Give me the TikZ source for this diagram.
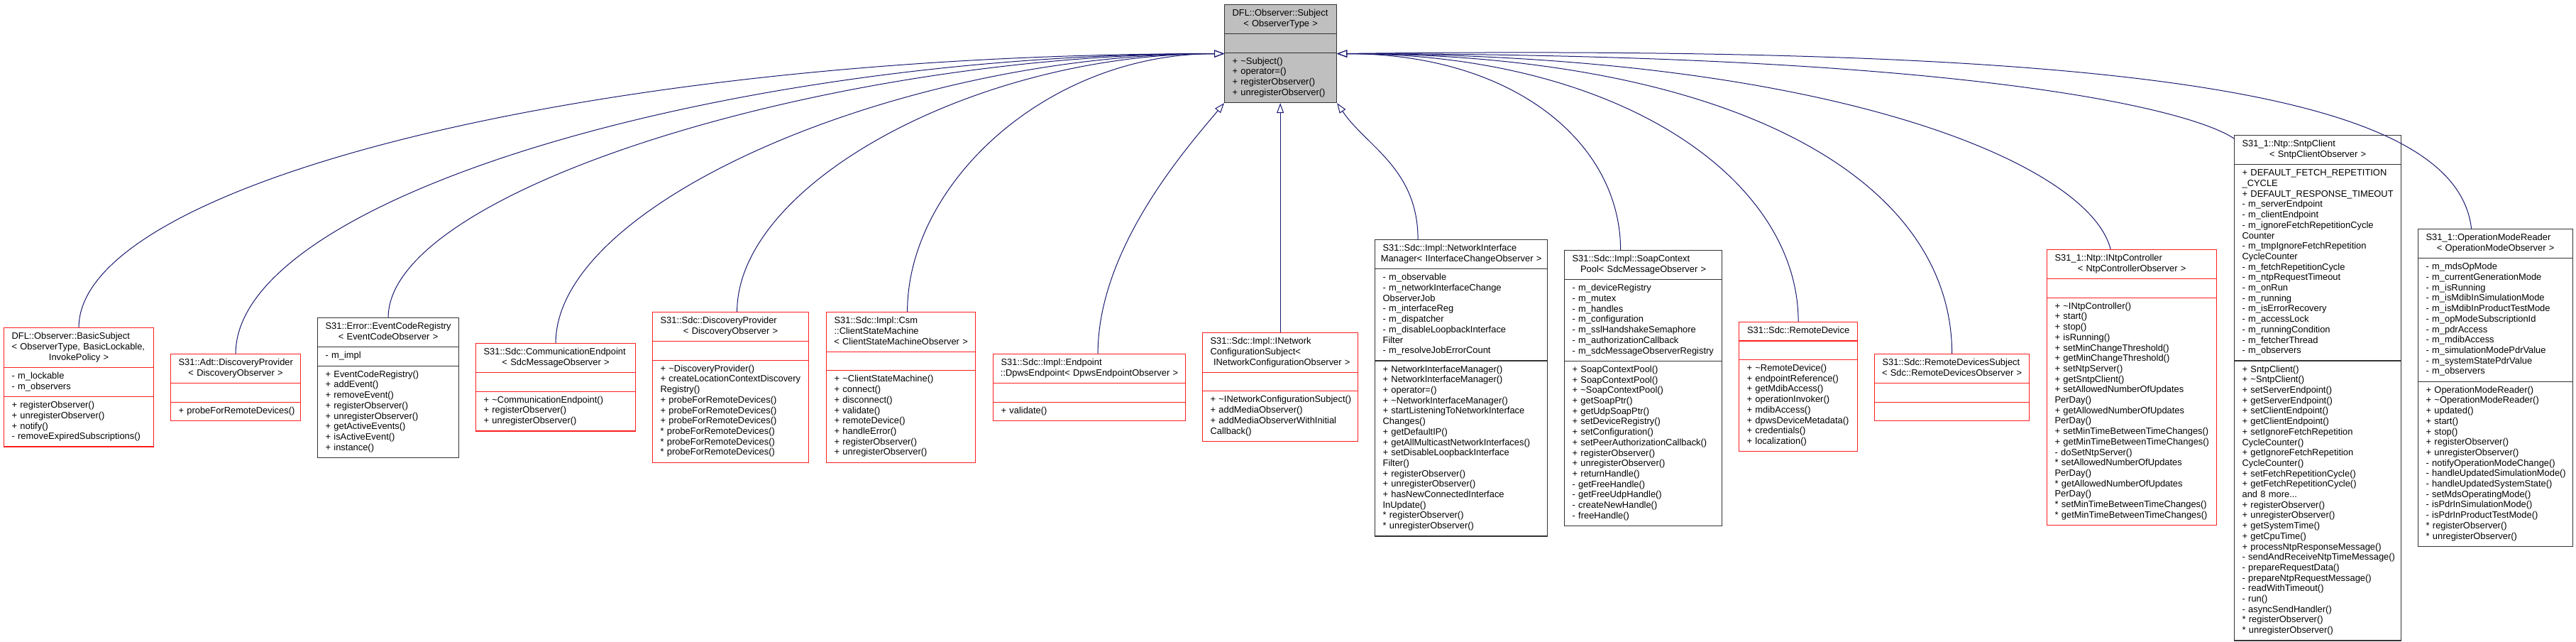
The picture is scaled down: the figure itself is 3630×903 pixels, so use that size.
\documentclass[tikz,border=0pt]{standalone}
\usepackage{fontspec}
\setmainfont{Liberation Sans}
\usetikzlibrary{arrows.meta,shapes.multipart}

\definecolor{edgeblue}{RGB}{25,25,112}
\definecolor{incred}{RGB}{255,30,30}
\definecolor{basegray}{RGB}{191,191,191}

% class title: left lines, last line centred
\newcommand{\clsname}[2]{\begin{tabular}{@{}l@{}}#1\makebox[\linewidth]{#2}\end{tabular}}
\newcommand{\members}[1]{\begin{tabular}{@{}l@{}}#1\end{tabular}}

\begin{document}
\begin{tikzpicture}[
  x=1pt, y=-1pt,
  cls/.style={rectangle split, rectangle split parts=3, draw=incred, line width=1.2pt,
    fill=white, inner xsep=11pt, inner ysep=5.25pt, align=left, anchor=north west,
    font=\fontsize{12.9pt}{14.7pt}\selectfont},
  known/.style={cls, draw=black!80},
  base/.style={known, fill=basegray},
  inh/.style={edgeblue, line width=1pt, -{Triangle[open, length=14pt, width=10pt, fill=white]}},
]
\useasboundingbox (0,0) rectangle (3630,903);

% ---------- base class ----------
\node[base, text width=136pt] (subj) at (1725,6)
  {\clsname{DFL::Observer::Subject\\}{< ObserverType >}
   \nodepart{two}\strut
   \nodepart{three}\members{+ \textasciitilde{}Subject()\\+ operator=()\\+ registerObserver()\\+ unregisterObserver()}};

% ---------- derived classes, left ----------
\node[cls, text width=189pt] (bsub) at (5,461)
  {\clsname{DFL::Observer::BasicSubject\\< ObserverType, BasicLockable,\\}{InvokePolicy >}
   \nodepart{two}\members{- m\_lockable\\- m\_observers}
   \nodepart{three}\members{+ registerObserver()\\+ unregisterObserver()\\+ notify()\\- removeExpiredSubscriptions()}};

\node[cls, text width=161pt] (adtdp) at (240,498)
  {\clsname{S31::Adt::DiscoveryProvider\\}{< DiscoveryObserver >}
   \nodepart{two}\strut
   \nodepart{three}\members{+ probeForRemoteDevices()}};

\node[known, text width=177pt] (errreg) at (447,447)
  {\clsname{S31::Error::EventCodeRegistry\\}{< EventCodeObserver >}
   \nodepart{two}\members{- m\_impl}
   \nodepart{three}\members{+ EventCodeRegistry()\\+ addEvent()\\+ removeEvent()\\+ registerObserver()\\+ unregisterObserver()\\+ getActiveEvents()\\+ isActiveEvent()\\+ instance()}};

\node[cls, text width=203pt] (commep) at (670,483)
  {\clsname{S31::Sdc::CommunicationEndpoint\\}{< SdcMessageObserver >}
   \nodepart{two}\strut
   \nodepart{three}\members{+ \textasciitilde{}CommunicationEndpoint()\\+ registerObserver()\\+ unregisterObserver()}};

\node[cls, text width=198pt] (sdcdp) at (919,439)
  {\clsname{S31::Sdc::DiscoveryProvider\\}{< DiscoveryObserver >}
   \nodepart{two}\strut
   \nodepart{three}\members{+ \textasciitilde{}DiscoveryProvider()\\+ createLocationContextDiscovery\\Registry()\\+ probeForRemoteDevices()\\+ probeForRemoteDevices()\\+ probeForRemoteDevices()\\{*} probeForRemoteDevices()\\{*} probeForRemoteDevices()\\{*} probeForRemoteDevices()}};

\node[cls, text width=188pt] (csm) at (1164,439)
  {\clsname{S31::Sdc::Impl::Csm\\::ClientStateMachine\\}{< ClientStateMachineObserver >}
   \nodepart{two}\strut
   \nodepart{three}\members{+ \textasciitilde{}ClientStateMachine()\\+ connect()\\+ disconnect()\\+ validate()\\+ remoteDevice()\\+ handleError()\\+ registerObserver()\\+ unregisterObserver()}};

\node[cls, text width=249pt] (dpws) at (1399,498)
  {\clsname{S31::Sdc::Impl::Endpoint\\}{::DpwsEndpoint< DpwsEndpointObserver >}
   \nodepart{two}\strut
   \nodepart{three}\members{+ validate()}};

\node[cls, text width=197pt] (inetconf) at (1694,468)
  {\clsname{S31::Sdc::Impl::INetwork\\ConfigurationSubject<\\}{ INetworkConfigurationObserver >}
   \nodepart{two}\strut
   \nodepart{three}\members{+ \textasciitilde{}INetworkConfigurationSubject()\\+ addMediaObserver()\\+ addMediaObserverWithInitial\\Callback()}};

% ---------- derived classes, right ----------
\node[known, text width=221pt] (nim) at (1937,337)
  {\clsname{S31::Sdc::Impl::NetworkInterface\\}{Manager< IInterfaceChangeObserver >}
   \nodepart{two}\members{- m\_observable\\- m\_networkInterfaceChange\\ObserverJob\\- m\_interfaceReg\\- m\_dispatcher\\- m\_disableLoopbackInterface\\Filter\\- m\_resolveJobErrorCount}
   \nodepart{three}\members{+ NetworkInterfaceManager()\\+ NetworkInterfaceManager()\\+ operator=()\\+ \textasciitilde{}NetworkInterfaceManager()\\+ startListeningToNetworkInterface\\Changes()\\+ getDefaultIP()\\+ getAllMulticastNetworkInterfaces()\\+ setDisableLoopbackInterface\\Filter()\\+ registerObserver()\\+ unregisterObserver()\\+ hasNewConnectedInterface\\InUpdate()\\{*} registerObserver()\\{*} unregisterObserver()}};

\node[known, text width=200pt] (soap) at (2204,352)
  {\clsname{S31::Sdc::Impl::SoapContext\\}{Pool< SdcMessageObserver >}
   \nodepart{two}\members{- m\_deviceRegistry\\- m\_mutex\\- m\_handles\\- m\_configuration\\- m\_sslHandshakeSemaphore\\- m\_authorizationCallback\\- m\_sdcMessageObserverRegistry}
   \nodepart{three}\members{+ SoapContextPool()\\+ SoapContextPool()\\+ \textasciitilde{}SoapContextPool()\\+ getSoapPtr()\\+ getUdpSoapPtr()\\+ setDeviceRegistry()\\+ setConfiguration()\\+ setPeerAuthorizationCallback()\\+ registerObserver()\\+ unregisterObserver()\\+ returnHandle()\\- getFreeHandle()\\- getFreeUdpHandle()\\- createNewHandle()\\- freeHandle()}};

\node[cls, text width=145pt] (rdev) at (2450,453)
  {\clsname{}{S31::Sdc::RemoteDevice}
   \nodepart{two}\strut
   \nodepart{three}\members{+ \textasciitilde{}RemoteDevice()\\+ endpointReference()\\+ getMdibAccess()\\+ operationInvoker()\\+ mdibAccess()\\+ dpwsDeviceMetadata()\\+ credentials()\\+ localization()}};

\node[cls, text width=196pt] (rdsub) at (2641,498)
  {\clsname{S31::Sdc::RemoteDevicesSubject\\}{< Sdc::RemoteDevicesObserver >}
   \nodepart{two}\strut
   \nodepart{three}\strut};

\node[cls, text width=217pt] (ntpc) at (2884,351)
  {\clsname{S31\_1::Ntp::INtpController\\}{< NtpControllerObserver >}
   \nodepart{two}\strut
   \nodepart{three}\members{+ \textasciitilde{}INtpController()\\+ start()\\+ stop()\\+ isRunning()\\+ setMinChangeThreshold()\\+ getMinChangeThreshold()\\+ setNtpServer()\\+ getSntpClient()\\+ setAllowedNumberOfUpdates\\PerDay()\\+ getAllowedNumberOfUpdates\\PerDay()\\+ setMinTimeBetweenTimeChanges()\\+ getMinTimeBetweenTimeChanges()\\- doSetNtpServer()\\{*} setAllowedNumberOfUpdates\\PerDay()\\{*} getAllowedNumberOfUpdates\\PerDay()\\{*} setMinTimeBetweenTimeChanges()\\{*} getMinTimeBetweenTimeChanges()}};

\node[known, text width=213pt] (sntp) at (3148,190)
  {\clsname{S31\_1::Ntp::SntpClient\\}{< SntpClientObserver >}
   \nodepart{two}\members{+ DEFAULT\_FETCH\_REPETITION\\\_CYCLE\\+ DEFAULT\_RESPONSE\_TIMEOUT\\- m\_serverEndpoint\\- m\_clientEndpoint\\- m\_ignoreFetchRepetitionCycle\\Counter\\- m\_tmpIgnoreFetchRepetition\\CycleCounter\\- m\_fetchRepetitionCycle\\- m\_ntpRequestTimeout\\- m\_onRun\\- m\_running\\- m\_isErrorRecovery\\- m\_accessLock\\- m\_runningCondition\\- m\_fetcherThread\\- m\_observers}
   \nodepart{three}\members{+ SntpClient()\\+ \textasciitilde{}SntpClient()\\+ setServerEndpoint()\\+ getServerEndpoint()\\+ setClientEndpoint()\\+ getClientEndpoint()\\+ setIgnoreFetchRepetition\\CycleCounter()\\+ getIgnoreFetchRepetition\\CycleCounter()\\+ setFetchRepetitionCycle()\\+ getFetchRepetitionCycle()\\and 8 more...\\+ registerObserver()\\+ unregisterObserver()\\+ getSystemTime()\\+ getCpuTime()\\+ processNtpResponseMessage()\\- sendAndReceiveNtpTimeMessage()\\- prepareRequestData()\\- prepareNtpRequestMessage()\\- readWithTimeout()\\- run()\\- asyncSendHandler()\\{*} registerObserver()\\{*} unregisterObserver()}};

\node[known, text width=196pt] (omr) at (3407,322)
  {\clsname{S31\_1::OperationModeReader\\}{< OperationModeObserver >}
   \nodepart{two}\members{- m\_mdsOpMode\\- m\_currentGenerationMode\\- m\_isRunning\\- m\_isMdibInSimulationMode\\- m\_isMdibInProductTestMode\\- m\_opModeSubscriptionId\\- m\_pdrAccess\\- m\_mdibAccess\\- m\_simulationModePdrValue\\- m\_systemStatePdrValue\\- m\_observers}
   \nodepart{three}\members{+ OperationModeReader()\\+ \textasciitilde{}OperationModeReader()\\+ updated()\\+ start()\\+ stop()\\+ registerObserver()\\+ unregisterObserver()\\- notifyOperationModeChange()\\- handleUpdatedSimulationMode()\\- handleUpdatedSystemState()\\- setMdsOperatingMode()\\- isPdrInSimulationMode()\\- isPdrInProductTestMode()\\{*} registerObserver()\\{*} unregisterObserver()}};

% ---------- inheritance edges ----------
\draw[inh] (bsub.north) .. controls +(0,-200) and +(-900,0) .. (subj.west);
\draw[inh] (adtdp.north) .. controls +(0,-220) and +(-700,0) .. (subj.west);
\draw[inh] (errreg.north) .. controls +(0,-180) and +(-550,0) .. (subj.west);
\draw[inh] (commep.north) .. controls +(0,-200) and +(-450,0) .. (subj.west);
\draw[inh] ([xshift=9pt]sdcdp.north) .. controls +(0,-180) and +(-350,0) .. (subj.west);
\draw[inh] ([xshift=9pt]csm.north) .. controls +(0,-180) and +(-250,0) .. (subj.west);
\draw[inh] ([xshift=12pt]dpws.north) .. controls +(0,-150) and +(-50,60) .. (subj.south west);
\draw[inh] (inetconf.north) -- (inetconf.north |- subj.south);
\draw[inh] ([xshift=-61pt]nim.north) .. controls +(0,-100) and +(40,60) .. (subj.south east);
\draw[inh] ([xshift=-32pt]soap.north) .. controls +(0,-150) and +(250,0) .. (subj.east);
\draw[inh] (rdev.north) .. controls +(0,-200) and +(400,0) .. (subj.east);
\draw[inh] (rdsub.north) .. controls +(0,-250) and +(550,0) .. (subj.east);
\draw[inh] ([xshift=-30pt]ntpc.north) .. controls +(-30,-120) and +(700,0) .. (subj.east);
\draw[inh] ([yshift=-5pt]sntp.north west) .. controls +(-60,-40) and +(900,0) .. (subj.east);
\draw[inh] ([xshift=-34pt]omr.north) .. controls +(-22,-192) and +(1117,-13) .. (subj.east);

\end{tikzpicture}
\end{document}
